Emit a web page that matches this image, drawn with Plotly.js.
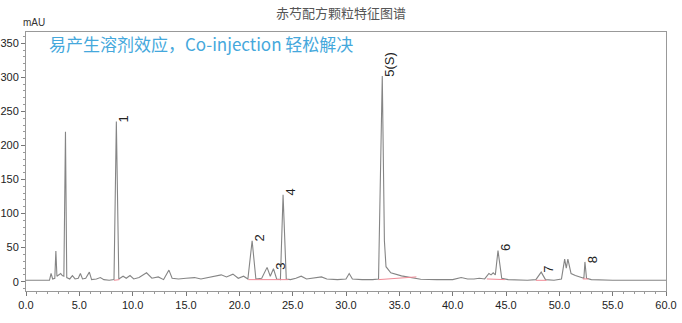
<!DOCTYPE html>
<html>
<head>
<meta charset="utf-8">
<script src="https://cdn.plot.ly/plotly-3.0.1.min.js"></script>
<style>
  html, body { margin: 0; padding: 0; background: #fff; }
  #chart { width: 682px; height: 323px; }
</style>
</head>
<body>
<div id="chart"></div>
<script>
// Chromatogram vertices: retention time (min) and detector response (mAU)
const retentionTime = [
  0, 2.2, 2.35, 2.5, 2.7, 2.8, 2.9, 3.1, 3.25, 3.4, 3.55, 3.7, 3.82, 4.1, 4.35, 4.6,
  4.9, 5.1, 5.3, 5.6, 5.94, 6.15, 6.6, 6.97, 7.3, 7.8, 8.25, 8.47, 8.7, 9.1, 9.4,
  9.75, 10.1, 10.6, 11.3, 11.8, 12.4, 12.9, 13.4, 13.7, 14.3, 15.0, 15.8, 16.4,
  17.0, 17.6, 18.3, 18.8, 19.4, 19.9, 20.4, 20.8, 21.2, 21.55, 22.1, 22.6, 22.9,
  23.2, 23.5, 23.85, 24.1, 24.4, 24.8, 25.3, 25.8, 26.3, 27.0, 27.7, 28.2, 29.2,
  30.0, 30.3, 30.6, 31.5, 32.5, 33.05, 33.4, 33.6, 33.75, 34.2, 35.2, 36.1, 37.0,
  38.5, 40.0, 40.8, 41.4, 42.0, 42.5, 43.0, 43.4, 43.6, 43.8, 44.0, 44.25, 44.6,
  45.2, 47.0, 47.8, 48.3, 48.7, 49.5, 50.2, 50.5, 50.65, 50.8, 51.1, 51.5, 52.0,
  52.3, 52.4, 52.55, 53.0, 55.0, 60.0
];
const response = [
  2, 2, 12, 4, 5, 45, 8, 10, 12, 9, 8, 220, 6, 4, 9, 4,
  5, 12, 4, 5, 14, 3, 4, 6, 3, 2, 3, 235, 4, 8, 5,
  9, 4, 6, 13, 5, 7, 3, 17, 5, 4, 5, 6, 4,
  6, 8, 10, 7, 11, 5, 8, 4, 60, 4, 5, 21, 8,
  19, 4, 3, 127.5, 4, 3, 5, 8, 4, 5, 7, 4, 3,
  4, 12, 4, 3, 3, 4, 302, 60, 22, 13, 8.5, 6.5, 3.5,
  3, 3, 6, 4, 4, 5, 4, 12, 10, 13, 10, 45.6, 5,
  3, 2, 3, 14, 3, 2, 4, 33, 20, 33, 12, 9, 6,
  5, 29, 5, 3, 2, 2
];

// Integration baselines drawn under the marked peaks (null breaks the line)
const baselineTime = [8.25, 8.75, null, 20.85, 24.6, null, 33.05, 36.6, null, 43.2, 44.9, null, 47.8, 48.8, null, 52.2, 52.7];
const baselineResp = [2, 3, null, 3, 3, null, 3, 7, null, 4, 3, null, 2, 2, null, 4, 4];

// Numbered characteristic peaks
const peakLabels = ['1', '2', '3', '4', '5(S)', '6', '7', '8'];
const peakTimes = [8.47, 21.2, 23.2, 24.1, 33.4, 44.25, 48.3, 52.4];

const xTicks = [0, 5, 10, 15, 20, 25, 30, 35, 40, 45, 50, 55, 60];
const yTicks = [0, 50, 100, 150, 200, 250, 300, 350];

function apexOf(t) {
  const i = retentionTime.indexOf(t);
  return response[i];
}

const traces = [
  {
    x: retentionTime, y: response, type: 'scatter', mode: 'lines',
    line: { color: '#858585', width: 1.1 }, hoverinfo: 'skip'
  },
  {
    x: baselineTime, y: baselineResp, type: 'scatter', mode: 'lines',
    line: { color: '#f08a96', width: 1 }, connectgaps: false, hoverinfo: 'skip'
  }
];

const annotations = peakLabels.map((lab, i) => ({
  x: peakTimes[i], y: apexOf(peakTimes[i]), xref: 'x', yref: 'y',
  text: lab, showarrow: false, textangle: -90,
  xanchor: 'center', yanchor: 'bottom', xshift: 7, yshift: -3,
  font: { family: 'Liberation Sans, Arial, sans-serif', size: 13, color: '#222' }
}));

annotations.push({
  x: 0.033, y: 0.954, xref: 'paper', yref: 'paper', xanchor: 'left', yanchor: 'middle',
  text: '易产生溶剂效应，Co-injection 轻松解决', showarrow: false,
  font: { family: 'Noto Sans CJK SC, Noto Sans, sans-serif', size: 17, color: '#45a8dc' }
});
annotations.push({
  x: 0.0125, y: 1.035, xref: 'paper', yref: 'paper', xanchor: 'center', yanchor: 'middle',
  text: 'mAU', showarrow: false,
  font: { family: 'Liberation Sans, Arial, sans-serif', size: 10, color: '#333' }
});

const layout = {
  width: 682, height: 323,
  margin: { l: 26, r: 16, t: 32, b: 32 },
  paper_bgcolor: '#fff', plot_bgcolor: '#fff',
  showlegend: false,
  title: {
    text: '赤芍配方颗粒特征图谱',
    x: 0.5, xref: 'container', xanchor: 'center',
    y: 0.957, yref: 'container', yanchor: 'middle',
    font: { family: 'Noto Sans CJK SC, sans-serif', size: 13, color: '#555' }
  },
  xaxis: {
    range: [0, 60], tickvals: xTicks, ticktext: xTicks.map(v => v.toFixed(1)),
    showline: true, mirror: true, linecolor: '#999', linewidth: 1,
    ticks: 'outside', ticklen: 4, tickcolor: '#777',
    minor: { ticks: 'outside', ticklen: 2, dtick: 1, tickcolor: '#999' },
    showgrid: false, zeroline: false,
    tickfont: { family: 'Liberation Sans, Arial, sans-serif', size: 11, color: '#222' }
  },
  yaxis: {
    range: [-13.7, 366.6], tickvals: yTicks,
    showline: true, mirror: true, linecolor: '#999', linewidth: 1,
    ticks: 'outside', ticklen: 4, tickcolor: '#777',
    minor: { ticks: 'outside', ticklen: 2, dtick: 10, tickcolor: '#999' },
    showgrid: false, zeroline: false,
    tickfont: { family: 'Liberation Sans, Arial, sans-serif', size: 11, color: '#222' }
  },
  annotations: annotations
};

Plotly.newPlot('chart', traces, layout, { displayModeBar: false, staticPlot: true });
</script>
</body>
</html>
